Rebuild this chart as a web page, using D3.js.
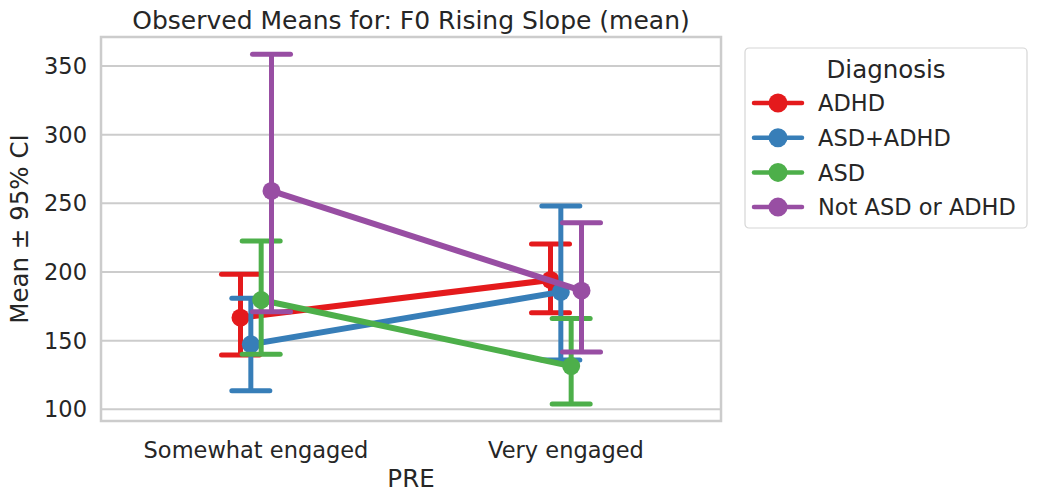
<!DOCTYPE html>
<html>
<head>
<meta charset="utf-8">
<script src="https://cdn.jsdelivr.net/npm/d3@7"></script>
<style>
  body { margin: 0; background: #fff; }
  text { font-family: "DejaVu Sans", sans-serif; fill: #262626; }
</style>
</head>
<body>
<div id="chart"></div>
<script>
// Data
var categories = ["Somewhat engaged", "Very engaged"];
var groups = ["ADHD", "ASD+ADHD", "ASD", "Not ASD or ADHD"];
var colors = ["#e41a1c", "#377eb8", "#4daf4a", "#984ea3"];
// means per group, per category
var means = [[166.7, 194.2], [147.3, 185.5], [179.6, 131.5], [259.0, 186.4]];
var ciLow = [[139.5, 170.4], [113.5, 135.9], [140.1, 103.9], [171.1, 141.7]];
var ciHigh = [[198.3, 220.4], [180.8, 248.0], [222.6, 166.2], [358.5, 235.9]];
var yTicks = [100, 150, 200, 250, 300, 350];

var W = 1038, H = 502;
var margins = {top: 37, left: 101, right: 1038 - 721, bottom: 502 - 421};
var width = W - margins.left - margins.right;
var height = H - margins.top - margins.bottom;

var svg = d3.select("#chart").append("svg")
  .attr("width", W)
  .attr("height", H);

var g = svg.append("g")
  .attr("transform", "translate(" + margins.left + "," + margins.top + ")");

var x = d3.scaleLinear().domain([-0.5, 1.5]).range([0, width]);
var y = d3.scaleLinear().domain([91.5, 371.1]).range([height, 0]);

// dodge offsets in category units
var dodge = d3.scaleLinear().domain([0, groups.length - 1]).range([-0.05, 0.05]);

// grid
g.selectAll(".grid").data(yTicks).enter().append("line")
  .attr("x1", 0).attr("x2", width)
  .attr("y1", function(d){ return y(d); })
  .attr("y2", function(d){ return y(d); })
  .attr("stroke", "#cccccc").attr("stroke-width", 2);

// y ticks labels
g.selectAll(".ytick").data(yTicks).enter().append("text")
  .attr("x", -14)
  .attr("y", function(d){ return y(d); })
  .attr("dy", "0.36em")
  .attr("text-anchor", "end")
  .style("font-size", "22.5px")
  .text(function(d){ return d; });

// x tick labels
g.selectAll(".xtick").data(categories).enter().append("text")
  .attr("x", function(d, i){ return x(i); })
  .attr("y", height + 37)
  .attr("text-anchor", "middle")
  .style("font-size", "22.5px")
  .text(function(d){ return d; });

// series
groups.forEach(function(grp, gi){
  var col = colors[gi];
  var pts = categories.map(function(c, ci){
    return {x: x(ci + dodge(gi)), m: means[gi][ci], lo: ciLow[gi][ci], hi: ciHigh[gi][ci]};
  });
  var sg = g.append("g");
  pts.forEach(function(p){
    sg.append("line")
      .attr("x1", p.x).attr("x2", p.x)
      .attr("y1", y(p.lo)).attr("y2", y(p.hi))
      .attr("stroke", col).attr("stroke-width", 5);
    [p.lo, p.hi].forEach(function(v){
      sg.append("line")
        .attr("x1", p.x - 19).attr("x2", p.x + 19)
        .attr("y1", y(v)).attr("y2", y(v))
        .attr("stroke", col).attr("stroke-width", 5)
        .attr("stroke-linecap", "round");
    });
  });
  sg.append("path")
    .datum(pts)
    .attr("d", d3.line().x(function(d){ return d.x; }).y(function(d){ return y(d.m); }))
    .attr("fill", "none").attr("stroke", col).attr("stroke-width", 6);
  sg.selectAll("circle").data(pts).enter().append("circle")
    .attr("cx", function(d){ return d.x; })
    .attr("cy", function(d){ return y(d.m); })
    .attr("r", 9)
    .attr("fill", col);
});

// frame
g.append("rect")
  .attr("width", width).attr("height", height)
  .attr("fill", "none").attr("stroke", "#cccccc").attr("stroke-width", 2.5);

// title and labels
svg.append("text")
  .attr("x", margins.left + width / 2).attr("y", 29)
  .attr("text-anchor", "middle")
  .style("font-size", "25px")
  .text("Observed Means for: F0 Rising Slope (mean)");

svg.append("text")
  .attr("x", margins.left + width / 2).attr("y", 487)
  .attr("text-anchor", "middle")
  .style("font-size", "24.5px")
  .text("PRE");

svg.append("text")
  .attr("transform", "translate(28," + (margins.top + height / 2) + ") rotate(-90)")
  .attr("text-anchor", "middle")
  .style("font-size", "24.5px")
  .text("Mean \u00b1 95% CI");

// legend
var lg = svg.append("g").attr("transform", "translate(745,48)");
lg.append("rect")
  .attr("width", 282).attr("height", 180)
  .attr("rx", 4)
  .attr("fill", "#fff").attr("stroke", "#d6d6d6").attr("stroke-width", 1.2);
lg.append("text")
  .attr("x", 141).attr("y", 30)
  .attr("text-anchor", "middle")
  .style("font-size", "24.5px")
  .text("Diagnosis");
var items = lg.selectAll(".item").data(groups).enter().append("g")
  .attr("transform", function(d, i){ return "translate(0," + (55 + i * 34.7) + ")"; });
items.append("line")
  .attr("x1", 9).attr("x2", 57)
  .attr("stroke", function(d, i){ return colors[i]; })
  .attr("stroke-width", 4.5).attr("stroke-linecap", "round");
items.append("circle")
  .attr("cx", 33).attr("r", 9.5)
  .attr("fill", function(d, i){ return colors[i]; });
items.append("text")
  .attr("x", 73).attr("dy", "0.36em")
  .style("font-size", "22.5px")
  .text(function(d){ return d; });
</script>
</body>
</html>
